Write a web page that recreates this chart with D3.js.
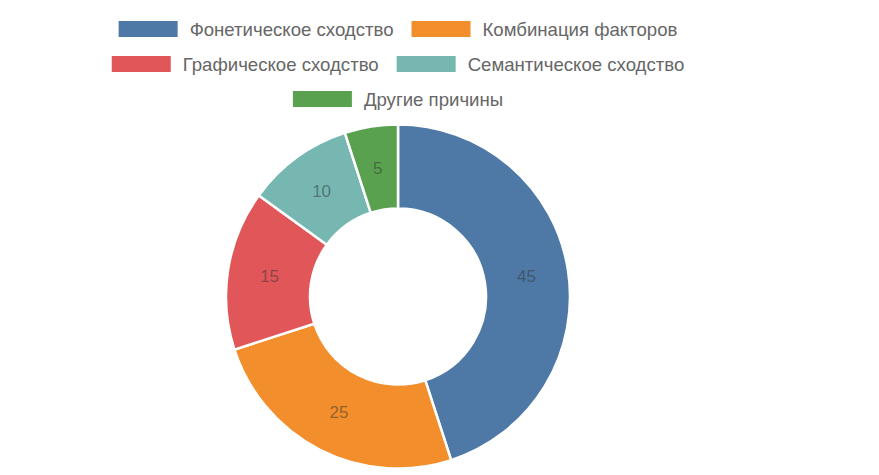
<!DOCTYPE html>
<html><head><meta charset="utf-8">
<script src="https://cdn.jsdelivr.net/npm/d3@7"></script>
<style>body{margin:0;background:#fff}svg{display:block}</style>
</head><body>
<svg id="c" width="879" height="475"></svg>
<script>
const categories = ["Фонетическое сходство","Комбинация факторов","Графическое сходство","Семантическое сходство","Другие причины"];
const values = [45,25,15,10,5];
const colors = ["#4e79a7","#f28e2b","#e15759","#76b7b2","#59a14f"];

const svg = d3.select("#c");
const W = 879, cx = 398, cy = 296.5, R = 172, r0 = 88;
const font = "Liberation Sans, Arial, sans-serif";

// legend with wrapping
const maxW = 620, boxW = 59, boxH = 16, gapT = 12, gapI = 18, rowH = 35, y0 = 29;
const lg = svg.append("g");
const items = categories.map((c,i)=>{
  const g = lg.append("g");
  g.append("rect").attr("width",boxW).attr("height",boxH).attr("y",-boxH/2).attr("fill",colors[i]);
  const t = g.append("text").attr("x",boxW+gapT).attr("dy","0.35em").attr("fill","#666")
    .style("font-family",font).style("font-size","18.6px").text(c);
  return {g, w: boxW+gapT+t.node().getComputedTextLength()};
});
const rows=[]; let cur=[], cw=0;
items.forEach(it=>{
  const add = (cur.length?gapI:0)+it.w;
  if(cur.length && cw+add>maxW){rows.push({items:cur,w:cw}); cur=[it]; cw=it.w;}
  else {cur.push(it); cw+=add;}
});
rows.push({items:cur,w:cw});
rows.forEach((row,ri)=>{
  let x = cx - row.w/2;
  row.items.forEach(it=>{ it.g.attr("transform",`translate(${x},${y0+ri*rowH})`); x+=it.w+gapI; });
});

// pie
const pie = d3.pie().sort(null).value(d=>d)(values);
const arc = d3.arc().innerRadius(r0).outerRadius(R);
const lab = d3.arc().innerRadius((R+r0)/2).outerRadius((R+r0)/2);
const pg = svg.append("g").attr("transform",`translate(${cx},${cy})`);
pg.selectAll("path").data(pie).join("path").attr("d",arc)
  .attr("fill",(d,i)=>colors[i]).attr("stroke","#fff").attr("stroke-width",2.5);
pg.selectAll("text").data(pie).join("text")
  .attr("transform",d=>`translate(${lab.centroid(d)})`)
  .attr("text-anchor","middle").attr("dy","0.35em")
  .attr("fill","#333").attr("fill-opacity",0.5)
  .style("font-family",font).style("font-size","17px")
  .text(d=>d.data);
</script>
</body></html>
